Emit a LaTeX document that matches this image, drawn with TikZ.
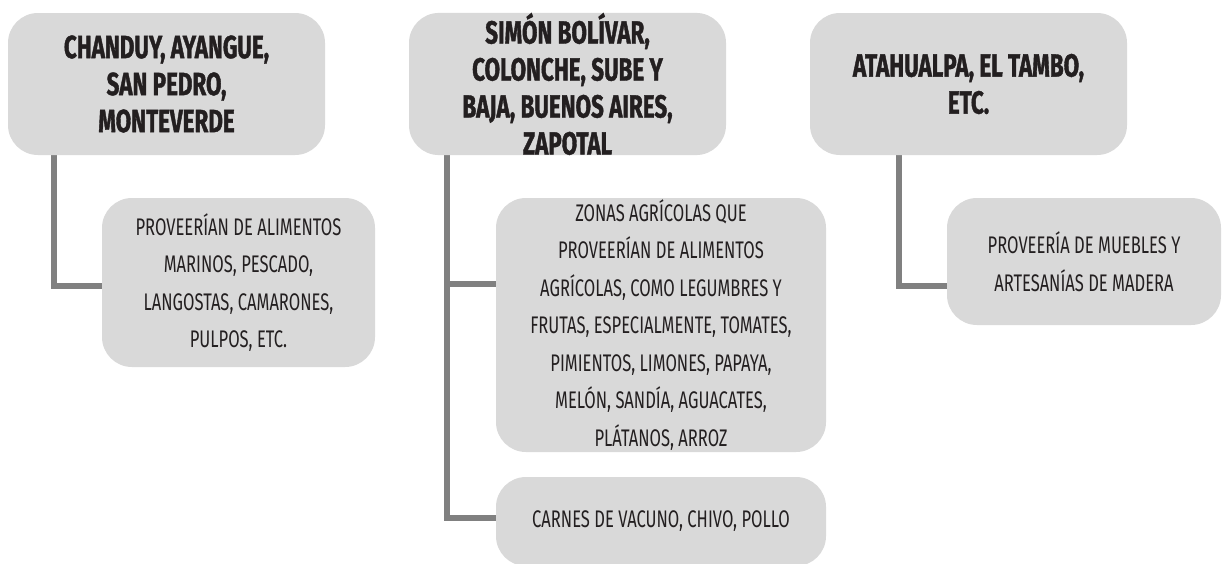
\documentclass[tikz,border=0pt]{standalone}
\usepackage{fontspec}
\setmainfont{Fira Sans}[FakeStretch=0.69]
\newfontfamily\headfont{Fira Sans}[FakeStretch=0.70,FakeBold=1.2]
\usetikzlibrary{backgrounds}
\definecolor{boxgray}{HTML}{D9D9D9}
\definecolor{linegray}{HTML}{808080}
\definecolor{ink}{HTML}{231F20}
\tikzset{
  box/.style={fill=boxgray, rounded corners=30pt, inner sep=0pt, align=center, text=ink},
  headbox/.style={box, minimum width=317pt, minimum height=142pt,
    font=\headfont\bfseries\fontsize{32}{37}\selectfont},
  subbox/.style={box, font=\fontsize{24}{37.5}\selectfont},
  conn/.style={draw=linegray, line width=6pt, line join=miter}
}
\begin{document}
\begin{tikzpicture}[x=1pt,y=-1pt]
\useasboundingbox (0,0) rectangle (1222,563);
\clip (0,0) rectangle (1222,563);
% headers
\node[headbox] (h1) at (166.5,84) {CHANDUY, AYANGUE,\\SAN PEDRO,\\MONTEVERDE};
\node[headbox] (h2) at (567.5,84) {SIMÓN BOLÍVAR,\\COLONCHE, SUBE Y\\BAJA, BUENOS AIRES,\\ZAPOTAL};
\node[headbox] (h3) at (968.5,84) {ATAHUALPA, EL TAMBO,\\ETC.};
% children
\node[subbox, minimum width=273pt, minimum height=169pt] (c1) at (238.5,282.5)
  {PROVEERÍAN DE ALIMENTOS\\MARINOS, PESCADO,\\LANGOSTAS, CAMARONES,\\PULPOS, ETC.};
\node[subbox, minimum width=330pt, minimum height=254pt] (c2a) at (661,325)
  {ZONAS AGRÍCOLAS QUE\\PROVEERÍAN DE ALIMENTOS\\AGRÍCOLAS, COMO LEGUMBRES Y\\FRUTAS, ESPECIALMENTE, TOMATES,\\PIMIENTOS, LIMONES, PAPAYA,\\MELÓN, SANDÍA, AGUACATES,\\PLÁTANOS, ARROZ};
\node[subbox, minimum width=330pt, minimum height=89pt] (c2b) at (661,521.5)
  {CARNES DE VACUNO, CHIVO, POLLO};
\node[subbox, minimum width=274pt, minimum height=127pt] (c3) at (1084,261.5)
  {PROVEERÍA DE MUEBLES Y\\ARTESANÍAS DE MADERA};
% connectors
\begin{scope}[on background layer]
\fill[white] (0,0) rectangle (1222,563);
\draw[conn] ([xshift=46pt]h1.south west) |- ([yshift=-3.5pt]c1.west);
\draw[conn] ([xshift=38.5pt]h2.south west) |- ([yshift=41pt]c2a.west);
\draw[conn] ([xshift=38.5pt]h2.south west) |- ([yshift=3.5pt]c2b.west);
\draw[conn] ([xshift=89pt]h3.south west) |- ([yshift=-24.5pt]c3.west);
\end{scope}
\end{tikzpicture}
\end{document}
